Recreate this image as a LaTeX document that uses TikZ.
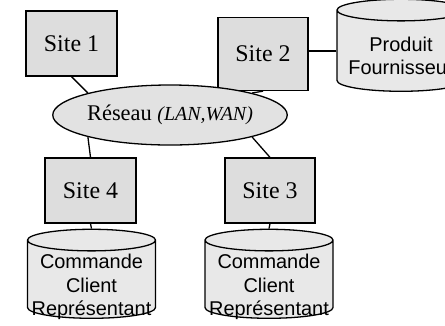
\documentclass[tikz,border=0pt]{standalone}
\usepackage{fontspec}
\setmainfont{Liberation Serif}
\newfontfamily\arialfont{Liberation Sans}
\usepackage{tikz}
\usetikzlibrary{shapes.geometric}
\definecolor{sitegrey}{RGB}{221,221,221}
\definecolor{dbgrey}{RGB}{232,232,232}
\definecolor{netgrey}{RGB}{226,226,226}
\tikzset{
  site/.style={rectangle, draw=black, fill=sitegrey, line width=1.3pt, inner sep=0pt, font=\fontsize{24}{28}\selectfont},
  net/.style={ellipse, draw=black, fill=netgrey, line width=1.3pt, inner sep=0pt, minimum width=214bp, minimum height=60bp, font=\fontsize{22.5}{26}\selectfont},
  db/.style={cylinder, shape border rotate=90, aspect=0.17, draw=black, fill=dbgrey, line width=1.3pt, inner sep=0pt, text width=127bp, minimum width=128bp, minimum height=#1},
  db/.default=89bp,
  dbtext/.style={inner sep=0pt, align=center, font=\arialfont\fontsize{20}{23.6}\selectfont},
  link/.style={line width=1.3pt, draw=black},
}
\begin{document}
\begin{tikzpicture}[x=1bp,y=-1bp]
  \useasboundingbox (0,0) rectangle (445,325);
  \node[site,minimum width=91bp,minimum height=65bp] (site1) at (71.5,43.5) {Site 1};
  \node[site,minimum width=90bp,minimum height=73bp] (site2) at (263,54) {Site 2};
  \node[site,minimum width=91bp,minimum height=65bp] (site4) at (90.5,190.5) {Site 4};
  \node[site,minimum width=90bp,minimum height=65bp] (site3) at (270,190.5) {Site 3};
  \node[net] (reseau) at (170,115) {R\'eseau \fontsize{20}{24}\selectfont\textit{(LAN,WAN)}};
  % bases de donnees
  \node[db=92bp] (dbprod) at (401,51) {};
  \node[db] (db4) at (91.5,279.5) {};
  \node[db] (db3) at (269,279.5) {};
  \node[dbtext] (dbprodtext) at ([yshift=-5bp]dbprod.center) {Produit\\Fournisseur};
  \node[dbtext] (db4text) at ([yshift=-7.4bp]db4.center) {Commande\\Client\\Repr\'esentant};
  \node[dbtext] (db3text) at ([yshift=-7.4bp]db3.center) {Commande\\Client\\Repr\'esentant};
  % liaisons
  \draw[link] (site1.south) -- (reseau.165);
  \draw[link] (site2.south) -- (reseau.15);
  \draw[link] (reseau.195) -- (site4.north);
  \draw[link] (reseau.-15) -- (site3.north);
  \draw[link] (dbprod.west) -- (dbprod.west -| site2.east);
  \foreach \s/\d in {site4/db4,site3/db3}{\draw[link] (\s.south) -- (\d.north);}
\end{tikzpicture}
\end{document}
